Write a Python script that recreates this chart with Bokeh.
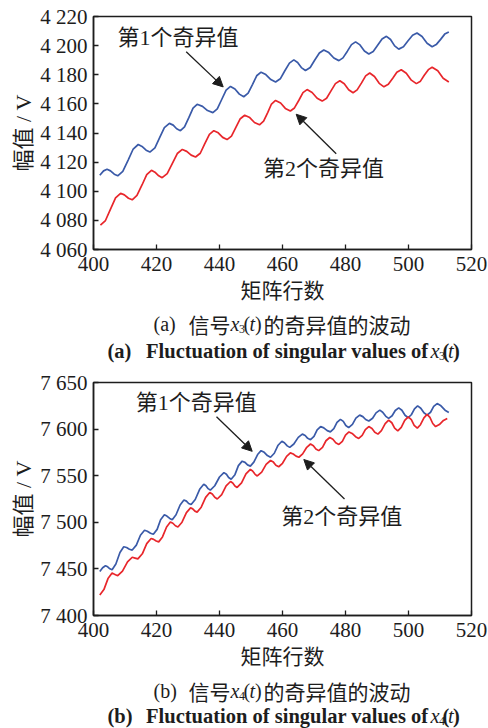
from bokeh.plotting import figure
from bokeh.models import Range1d, FixedTicker, Label, Arrow, NormalHead
from bokeh.layouts import column
from bokeh.embed import file_html
from bokeh.resources import INLINE

# ---------------- data ----------------
x_ticks = [400, 420, 440, 460, 480, 500, 520]
x_tick_labels = ["400", "420", "440", "460", "480", "500", "520"]

a_y_ticks = [4060, 4080, 4100, 4120, 4140, 4160, 4180, 4200, 4220]
a_y_tick_labels = ["4 060", "4 080", "4 100", "4 120", "4 140", "4 160", "4 180", "4 200", "4 220"]
b_y_ticks = [7400, 7450, 7500, 7550, 7600, 7650]
b_y_tick_labels = ["7 400", "7 450", "7 500", "7 550", "7 600", "7 650"]

# (a) x3(t): first singular value
a_s1_x = [402.0, 403.2, 404.3, 405.4, 406.6, 407.7, 409.3, 411.0, 412.6, 414.2, 415.4, 416.7, 417.9, 419.5, 421.0,
          422.5, 424.1, 425.3, 426.4, 427.6, 428.9, 430.3, 431.6, 432.9, 434.6, 436.2, 437.9, 439.3, 440.7, 442.1,
          443.5, 444.9, 446.3, 447.7, 449.1, 450.5, 451.8, 453.2, 454.7, 456.3, 457.8, 459.3, 460.7, 462.2, 463.6,
          464.8, 466.1, 467.3, 468.8, 470.2, 471.7, 473.1, 474.7, 476.3, 477.9, 479.2, 480.6, 481.9, 483.2, 484.6,
          486.0, 487.4, 488.8, 490.2, 491.6, 493.0, 494.3, 495.6, 496.9, 498.4, 499.8, 501.3, 502.7, 504.3, 505.9,
          507.5, 508.8, 510.2, 511.5, 512.8]
a_s1_y = [4111.0, 4114.0, 4115.1, 4114.0, 4111.7, 4110.6, 4113.7, 4121.4, 4129.0, 4132.1, 4130.8, 4128.2, 4126.9,
          4129.8, 4136.8, 4143.7, 4146.6, 4145.4, 4142.9, 4141.6, 4144.2, 4150.7, 4157.1, 4159.7, 4158.3, 4155.4,
          4154.0, 4156.6, 4163.0, 4169.4, 4172.0, 4170.2, 4166.7, 4164.9, 4167.4, 4173.4, 4179.3, 4181.8, 4180.1,
          4176.7, 4175.0, 4177.2, 4182.6, 4188.0, 4190.2, 4188.4, 4184.7, 4182.9, 4185.0, 4190.0, 4194.9, 4197.0,
          4195.2, 4191.5, 4189.7, 4191.6, 4196.2, 4200.7, 4202.6, 4200.5, 4196.3, 4194.2, 4196.0, 4200.3, 4204.6,
          4206.4, 4204.2, 4199.8, 4197.6, 4199.2, 4203.2, 4207.1, 4208.7, 4206.3, 4201.6, 4199.2, 4200.7, 4204.3,
          4207.9, 4209.4]
# (a) x3(t): second singular value
a_s2_x = [402.2, 403.8, 405.4, 407.0, 408.6, 409.8, 411.1, 412.3, 413.8, 415.4, 416.9, 418.4, 419.5, 420.7, 421.8,
          423.4, 425.0, 426.6, 428.2, 429.6, 431.0, 432.4, 433.9, 435.3, 436.8, 438.2, 439.6, 441.0, 442.4, 443.8,
          445.2, 446.6, 448.0, 449.6, 451.1, 452.7, 454.0, 455.3, 456.5, 457.8, 459.4, 460.9, 462.5, 463.8, 465.2,
          466.5, 467.8, 469.4, 471.0, 472.6, 474.0, 475.4, 476.8, 478.2, 479.6, 481.0, 482.4, 483.7, 485.1, 486.4,
          487.7, 489.2, 490.7, 492.2, 493.6, 495.0, 496.3, 497.7, 499.3, 500.9, 502.5, 503.8, 505.0, 506.3, 507.5,
          509.3, 511.0, 512.8]
a_s2_y = [4076.7, 4079.9, 4087.7, 4095.4, 4098.6, 4097.5, 4095.2, 4094.1, 4097.1, 4104.3, 4111.4, 4114.4, 4113.1,
          4110.6, 4109.3, 4112.1, 4119.0, 4125.9, 4128.7, 4127.4, 4124.8, 4123.5, 4126.1, 4132.6, 4139.0, 4141.6,
          4140.1, 4137.0, 4135.5, 4137.9, 4143.9, 4149.8, 4152.2, 4150.6, 4147.2, 4145.6, 4148.1, 4154.0, 4159.9,
          4162.4, 4160.6, 4156.9, 4155.1, 4157.2, 4162.5, 4167.7, 4169.8, 4167.8, 4163.9, 4161.9, 4163.9, 4168.9,
          4173.9, 4175.9, 4173.8, 4169.7, 4167.6, 4169.6, 4174.4, 4179.2, 4181.2, 4178.8, 4174.1, 4171.7, 4173.4,
          4177.6, 4181.7, 4183.4, 4181.0, 4176.3, 4173.9, 4175.6, 4179.6, 4183.5, 4185.2, 4182.7, 4177.6, 4175.0]

# (b) x4(t): first singular value
b_s1_x = [402.0, 402.9, 403.8, 404.5, 405.2, 405.9, 407.1, 408.4, 409.6, 410.5, 411.4, 412.3, 413.6, 414.9, 416.2,
          417.1, 418.1, 419.0, 420.2, 421.3, 422.5, 423.3, 424.2, 425.0, 426.2, 427.5, 428.7, 429.5, 430.2, 431.0,
          432.3, 433.7, 435.0, 435.7, 436.4, 437.1, 438.5, 440.0, 441.4, 442.2, 442.9, 443.7, 444.9, 446.0, 447.2,
          448.1, 448.9, 449.8, 450.9, 452.1, 453.2, 454.2, 455.2, 456.2, 457.4, 458.6, 459.8, 460.6, 461.5, 462.3,
          463.6, 465.0, 466.3, 467.2, 468.0, 468.9, 470.0, 471.0, 472.1, 473.1, 474.2, 475.2, 476.3, 477.3, 478.4,
          479.3, 480.1, 481.0, 482.2, 483.3, 484.5, 485.5, 486.4, 487.4, 488.6, 489.7, 490.9, 491.8, 492.8, 493.7,
          494.8, 495.8, 496.9, 497.9, 498.9, 499.9, 500.9, 501.9, 502.9, 503.9, 504.9, 505.9, 507.0, 508.0, 509.1,
          510.3, 511.6, 512.8]
b_s1_y = [7447.3, 7451.2, 7453.3, 7452.2, 7450.1, 7449.0, 7455.2, 7467.6, 7473.8, 7472.9, 7471.1, 7470.2, 7475.5,
          7486.1, 7491.4, 7490.4, 7488.3, 7487.2, 7492.4, 7502.8, 7508.0, 7506.7, 7504.1, 7502.8, 7508.1, 7518.6,
          7523.9, 7522.7, 7520.2, 7519.0, 7524.5, 7535.4, 7540.9, 7539.3, 7536.1, 7534.5, 7539.2, 7548.6, 7553.3,
          7551.5, 7548.0, 7546.2, 7551.1, 7560.8, 7565.6, 7564.3, 7561.6, 7560.3, 7564.5, 7572.7, 7576.9, 7575.1,
          7571.6, 7569.8, 7574.1, 7582.7, 7587.0, 7585.4, 7582.0, 7580.4, 7584.0, 7591.1, 7594.6, 7593.1, 7590.1,
          7588.6, 7592.1, 7599.2, 7602.7, 7601.3, 7598.4, 7597.0, 7600.4, 7607.1, 7610.5, 7608.3, 7603.8, 7601.6,
          7605.0, 7611.7, 7615.0, 7613.4, 7610.3, 7608.7, 7611.6, 7617.4, 7620.3, 7618.1, 7613.7, 7611.5, 7614.3,
          7620.0, 7622.8, 7620.2, 7614.9, 7612.2, 7615.4, 7621.7, 7624.9, 7622.4, 7617.5, 7615.0, 7618.1, 7624.3,
          7627.4, 7625.0, 7620.3, 7617.9]
# (b) x4(t): second singular value
b_s2_x = [402.0, 403.3, 404.6, 405.9, 406.8, 407.7, 409.2, 410.8, 412.3, 413.2, 414.1, 415.5, 416.9, 418.3, 419.1,
          419.9, 420.7, 421.9, 423.2, 424.4, 425.2, 426.0, 426.8, 428.1, 429.5, 430.8, 431.5, 432.2, 432.9, 434.2,
          435.6, 436.9, 437.7, 438.5, 439.3, 440.7, 442.1, 443.5, 444.2, 444.9, 445.6, 447.0, 448.4, 449.8, 450.5,
          451.3, 452.0, 453.4, 454.8, 456.2, 457.1, 457.9, 458.8, 460.0, 461.3, 462.5, 463.4, 464.3, 465.2, 466.4,
          467.7, 468.9, 469.8, 470.6, 471.5, 472.7, 473.8, 475.0, 476.0, 476.9, 477.9, 479.0, 480.0, 481.1, 482.1,
          483.2, 484.2, 485.3, 486.3, 487.4, 488.4, 489.3, 490.3, 491.4, 492.6, 493.7, 494.7, 495.6, 496.6, 497.7,
          498.8, 499.9, 500.9, 501.8, 502.8, 503.8, 504.9, 505.9, 506.8, 507.7, 508.6, 509.8, 511.1, 512.3]
b_s2_y = [7421.9, 7427.8, 7439.6, 7445.5, 7444.1, 7442.7, 7447.7, 7457.5, 7462.5, 7461.6, 7460.7, 7466.2, 7477.1,
          7482.6, 7481.7, 7479.9, 7479.0, 7484.3, 7495.0, 7500.3, 7499.0, 7496.3, 7495.0, 7500.1, 7510.4, 7515.5,
          7514.4, 7512.0, 7510.9, 7516.2, 7526.7, 7532.0, 7530.3, 7526.8, 7525.0, 7529.7, 7539.1, 7543.8, 7542.2,
          7539.0, 7537.4, 7542.3, 7552.0, 7556.8, 7555.0, 7551.5, 7549.7, 7553.9, 7562.2, 7566.3, 7564.6, 7561.3,
          7559.6, 7563.3, 7570.8, 7574.5, 7573.3, 7571.0, 7569.8, 7573.4, 7580.5, 7584.0, 7582.2, 7578.7, 7576.9,
          7580.4, 7587.5, 7591.0, 7589.1, 7585.4, 7583.5, 7586.9, 7593.6, 7597.0, 7595.3, 7591.8, 7590.0, 7593.2,
          7599.5, 7602.7, 7600.7, 7596.6, 7594.6, 7598.4, 7605.9, 7609.7, 7606.8, 7601.0, 7598.1, 7601.9, 7609.4,
          7613.2, 7610.2, 7604.1, 7601.0, 7604.7, 7612.1, 7615.8, 7612.5, 7606.0, 7602.7, 7604.9, 7609.3, 7611.5]

# ---------------- styles ----------------
SERIF = "Liberation Serif"
CJK = "Noto Sans CJK SC"
MIX = "Liberation Serif, Noto Sans CJK SC"
INK = "#1d1d1d"
BLUE = "#3a5aa8"
RED = "#e8262b"
X_LO, X_HI = 400, 520
W = 488
FRAME_LEFT, FRAME_RIGHT = 93, 471


def make_fig(height, b_top, b_bottom, y_lo, y_hi, y_ticks, y_labels):
    p = figure(width=W, height=height, x_range=Range1d(X_LO, X_HI), y_range=Range1d(y_lo, y_hi),
               output_backend="svg", toolbar_location=None,
               min_border_left=FRAME_LEFT, min_border_right=W - FRAME_RIGHT,
               min_border_top=b_top, min_border_bottom=b_bottom)
    p.grid.visible = False
    p.background_fill_color = "white"
    p.border_fill_color = "white"
    p.outline_line_color = INK
    p.outline_line_width = 1.5
    p.outline_line_alpha = 1.0

    xa = p.xaxis[0]
    xa.ticker = FixedTicker(ticks=x_ticks)
    xa.major_label_overrides = dict(zip(x_ticks, x_tick_labels))
    xa.major_label_standoff = 7
    xa.axis_label = "矩阵行数"
    xa.axis_label_text_font = CJK
    xa.axis_label_text_font_size = "21px"
    xa.axis_label_standoff = 0

    ya = p.yaxis[0]
    ya.ticker = FixedTicker(ticks=y_ticks)
    ya.major_label_overrides = dict(zip(y_ticks, y_labels))
    ya.major_label_standoff = 6
    ya.axis_label = "幅值 / V"
    ya.axis_label_text_font = MIX
    ya.axis_label_text_font_size = "22px"
    ya.axis_label_standoff = 1

    for ax in (xa, ya):
        ax.axis_line_color = INK
        ax.axis_line_width = 1.5
        ax.major_tick_in = 5
        ax.major_tick_out = 0
        ax.major_tick_line_color = INK
        ax.major_tick_line_width = 1.3
        ax.minor_tick_line_color = None
        ax.major_label_text_font = SERIF
        ax.major_label_text_font_size = "21px"
        ax.major_label_text_color = INK
        ax.axis_label_text_font_style = "normal"
        ax.axis_label_text_color = INK
    return p


def mapper(y_hi, y_lo, top_page, bottom_page):
    fx = lambda px: X_LO + (px - FRAME_LEFT) * (X_HI - X_LO) / (FRAME_RIGHT - FRAME_LEFT)
    fy = lambda py: y_hi - (py - top_page) * (y_hi - y_lo) / (bottom_page - top_page)
    return fx, fy


def add_text(p, fx, fy, px, py, text, font=MIX, size="22px", style="normal", align="left"):
    p.add_layout(Label(x=fx(px), y=fy(py), text=text, text_font=font, text_font_size=size,
                       text_font_style=style, text_color=INK, text_align=align, text_baseline="middle"))


def add_arrow(p, fx, fy, tail, tip):
    p.add_layout(Arrow(end=NormalHead(size=10, fill_color=INK, line_color=INK, line_width=1),
                       x_start=fx(tail[0]), y_start=fy(tail[1]), x_end=fx(tip[0]), y_end=fy(tip[1]),
                       line_color=INK, line_width=1.3))


def caption_fig(top, bottom, tag, sub, y1, y2, eng_style):
    # a plain strip whose frame lines up with the plot frame; data units are page pixels (y reversed)
    c = figure(width=W, height=bottom - top, x_range=Range1d(FRAME_LEFT, FRAME_RIGHT), y_range=Range1d(bottom, top),
               output_backend="svg", toolbar_location=None, x_axis_type=None, y_axis_type=None,
               min_border_left=FRAME_LEFT, min_border_right=W - FRAME_RIGHT, min_border_top=0, min_border_bottom=0)
    c.grid.visible = False
    c.outline_line_color = None
    c.background_fill_color = "white"
    c.border_fill_color = "white"
    ident = lambda v: v
    # line 1 (Chinese)
    add_text(c, ident, ident, 153, y1, "(" + tag + ")", SERIF, "20px")
    add_text(c, ident, ident, 188, y1, "信号", CJK, "21px")
    add_text(c, ident, ident, 230, y1, "x", SERIF, "20px", "italic")
    add_text(c, ident, ident, 238.5, y1 + 5, sub, SERIF, "12px")
    add_text(c, ident, ident, 243, y1, "(", SERIF, "20px")
    add_text(c, ident, ident, 249, y1, "t", SERIF, "20px", "italic")
    add_text(c, ident, ident, 254.5, y1, ")", SERIF, "20px")
    add_text(c, ident, ident, 263, y1, "的奇异值的波动", CJK, "21px")
    # line 2 (English)
    add_text(c, ident, ident, 107, y2, "(" + tag + ")", SERIF, "20.5px", eng_style)
    add_text(c, ident, ident, 428, y2, "Fluctuation of singular values of", SERIF, "20.5px", eng_style, "right")
    add_text(c, ident, ident, 430, y2, "x", SERIF, "20.5px", "italic")
    add_text(c, ident, ident, 438.5, y2 + 5, sub, SERIF, "12px")
    add_text(c, ident, ident, 442, y2, "(", SERIF, "20.5px", eng_style)
    add_text(c, ident, ident, 447.5, y2, "t", SERIF, "20.5px", "italic")
    add_text(c, ident, ident, 452.5, y2, ")", SERIF, "20.5px", eng_style)
    return c


# ---------------- panel (a) ----------------
pa = make_fig(306, 16, 54, 4060, 4220, a_y_ticks, a_y_tick_labels)
fxa, fya = mapper(4220, 4060, 16, 252)
pa.line(a_s1_x, a_s1_y, line_color=BLUE, line_width=1.7)
pa.line(a_s2_x, a_s2_y, line_color=RED, line_width=1.7)
add_text(pa, fxa, fya, 177.5, 37.5, "第1个奇异值", MIX, "22px", align="center")
add_arrow(pa, fxa, fya, (185.7, 51.7), (222.7, 87.3))
add_text(pa, fxa, fya, 323, 170, "第2个奇异值", MIX, "22px", align="center")
add_arrow(pa, fxa, fya, (335.7, 155), (295.7, 115))
ca = caption_fig(306, 366, "a", "3", 323, 350, "bold")

# ---------------- panel (b) ----------------
pb = make_fig(306, 16, 54, 7400, 7650, b_y_ticks, b_y_tick_labels)
fxb, fyb = mapper(7650, 7400, 382, 618)
pb.line(b_s1_x, b_s1_y, line_color=BLUE, line_width=1.7)
pb.line(b_s2_x, b_s2_y, line_color=RED, line_width=1.7)
add_text(pb, fxb, fyb, 195.8, 402.5, "第1个奇异值", MIX, "22px", align="center")
add_arrow(pb, fxb, fyb, (216, 416.7), (251.7, 451.7))
add_text(pb, fxb, fyb, 341.2, 517.5, "第2个奇异值", MIX, "22px", align="center")
add_arrow(pb, fxb, fyb, (344, 500), (303.3, 460))
cb = caption_fig(672, 728, "b", "4", 690, 715, "bold")

layout = column(pa, ca, pb, cb)
open("out.html", "w").write(file_html(layout, INLINE))
